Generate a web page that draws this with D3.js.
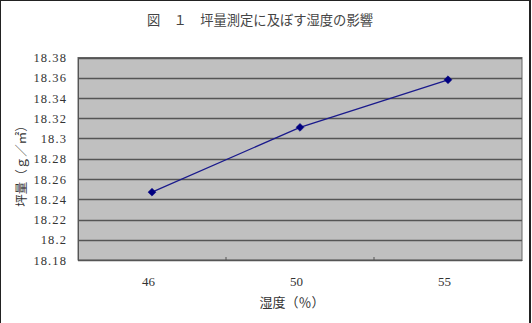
<!DOCTYPE html>
<html><head><meta charset="utf-8">
<script src="https://cdn.jsdelivr.net/npm/d3@7"></script>
<style>
html,body{margin:0;padding:0;background:#fff;}
svg{display:block;}
</style></head>
<body>
<svg id="chart" width="532" height="323"></svg>
<script>
const titleText = "図　１　坪量測定に及ぼす湿度の影響";
const xTitle = "湿度（％）";
const yTitle = "坪量（ｇ／㎡）";
const categories = ["46", "50", "55"];
const values = [18.247, 18.311, 18.358];
const yTicks = [18.18, 18.2, 18.22, 18.24, 18.26, 18.28, 18.3, 18.32, 18.34, 18.36, 18.38];
const yTickLabels = ["18.18", "18.2", "18.22", "18.24", "18.26", "18.28", "18.3", "18.32", "18.34", "18.36", "18.38"];

const svg = d3.select("#chart");
const m = {left: 78, right: 522, top: 57.5, bottom: 260};
const textColor = "#333";
const serif = "Liberation Serif, DejaVu Serif, serif";
const cjk = "Noto Sans CJK JP, sans-serif";

// outer chart frame
svg.append("rect").attr("x", 0.5).attr("y", 0.5).attr("width", 529).attr("height", 340)
  .attr("fill", "#fff").attr("stroke", "#222").attr("stroke-width", 1);
svg.append("line").attr("x1", 530).attr("x2", 530).attr("y1", 0).attr("y2", 323)
  .attr("stroke", "#222").attr("stroke-width", 2);

const x = d3.scaleBand().domain(categories).range([m.left, m.right]);
const y = d3.scaleLinear().domain([18.18, 18.38]).range([m.bottom, m.top]);

// plot area
svg.append("rect").attr("x", m.left).attr("y", m.top)
  .attr("width", m.right - m.left).attr("height", m.bottom - m.top)
  .attr("fill", "#c0c0c0").attr("stroke", "#666").attr("stroke-width", 1);

// gridlines
svg.append("g").selectAll("line").data(yTicks).join("line")
  .attr("x1", m.left).attr("x2", m.right)
  .attr("y1", d => Math.round(y(d)) + 0.5).attr("y2", d => Math.round(y(d)) + 0.5)
  .attr("stroke", "#555").attr("stroke-width", 1.5);

// y axis
const yAxis = d3.axisLeft(y).tickValues(yTicks)
  .tickFormat((d, i) => yTickLabels[i]).tickSize(0).tickPadding(11);
const gy = svg.append("g").attr("transform", `translate(${m.left},0)`).call(yAxis)
  .attr("font-family", serif);
gy.select(".domain").attr("stroke", "#555");
gy.selectAll("text").attr("fill", textColor).style("font-family", serif)
  .attr("font-size", 12.5).attr("letter-spacing", 1.1);

// x axis
const xAxis = d3.axisBottom(x).tickSize(0).tickPadding(17);
const gx = svg.append("g").attr("transform", `translate(0,${m.bottom})`).call(xAxis)
  .attr("font-family", serif);
gx.select(".domain").attr("stroke", "#555");
gx.selectAll("text").attr("fill", textColor).style("font-family", serif)
  .attr("font-size", 13).attr("dx", -3.5);

// category separator tick marks (inside)
svg.append("g").selectAll("line").data(categories.slice(1)).join("line")
  .attr("x1", d => x(d)).attr("x2", d => x(d))
  .attr("y1", m.bottom - 3).attr("y2", m.bottom)
  .attr("stroke", "#555");

// line
const pts = categories.map((c, i) => [x(c) + x.bandwidth() / 2, y(values[i])]);
svg.append("path").datum(pts)
  .attr("d", d3.line())
  .attr("fill", "none").attr("stroke", "#1a1a8c").attr("stroke-width", 1.3);

svg.append("g").selectAll("path").data(pts).join("path")
  .attr("transform", d => `translate(${d[0]},${d[1]})`)
  .attr("d", d3.symbol(d3.symbolDiamond2, 40))
  .attr("fill", "#000080").attr("stroke", "#000080").attr("stroke-width", 0.5);

// title
svg.append("text").attr("x", 260).attr("y", 25).attr("text-anchor", "middle")
  .style("font-family", cjk).attr("font-size", 13.3).attr("fill", "#444")
  .text(titleText);

// x title
svg.append("text").attr("x", 292).attr("y", 307).attr("text-anchor", "middle")
  .style("font-family", cjk).attr("font-size", 13).attr("fill", textColor)
  .text(xTitle);

// y title
svg.append("text").attr("transform", "translate(20,163) rotate(-90)")
  .attr("text-anchor", "middle").attr("dominant-baseline", "central")
  .style("font-family", cjk).attr("font-size", 12.5).attr("fill", textColor)
  .text(yTitle);
</script>
</body></html>
